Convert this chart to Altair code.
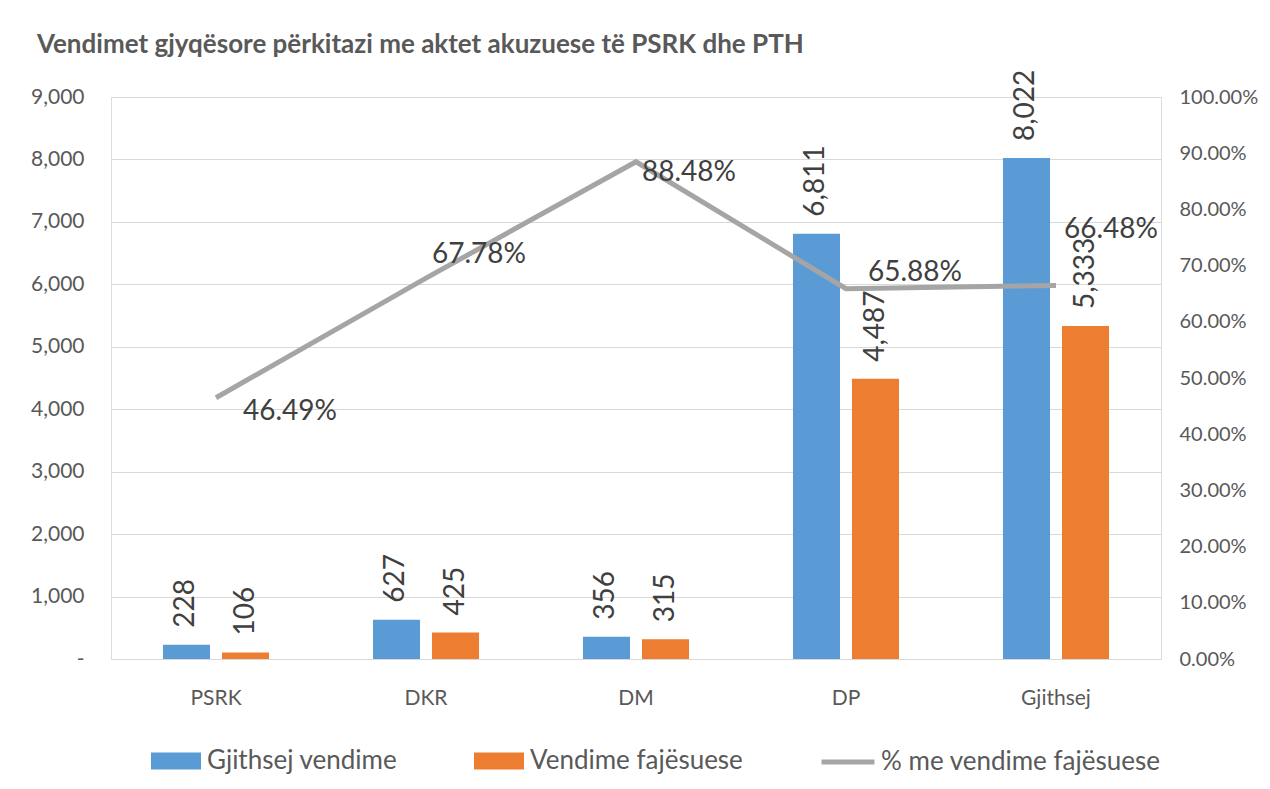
import altair as alt
import pandas as pd

categories = ["PSRK", "DKR", "DM", "DP", "Gjithsej"]
series_names = ["Gjithsej vendime", "Vendime fajësuese"]
total_decisions = [228, 627, 356, 6811, 8022]
convictions = [106, 425, 315, 4487, 5333]
conviction_pct = [46.49, 67.78, 88.48, 65.88, 66.48]
line_name = "% me vendime fajësuese"
title_text = "Vendimet gjyqësore përkitazi me aktet akuzuese të PSRK dhe PTH"

bars_df = pd.DataFrame({
    "category": categories * 2,
    "series": [series_names[0]] * len(categories) + [series_names[1]] * len(categories),
    "value": total_decisions + convictions,
})
line_df = pd.DataFrame({
    "category": categories,
    "pct": conviction_pct,
    "name": [line_name] * len(categories),
})

FONT = "Lato"
AXIS_COLOR = "#595959"
LABEL_COLOR = "#404040"

x_enc = alt.X(
    "category:N", sort=categories,
    scale=alt.Scale(paddingInner=0.495, paddingOuter=0.2475),
    axis=alt.Axis(title=None, labelFontSize=21, labelColor=AXIS_COLOR, labelFont=FONT,
                  labelPadding=28, ticks=False, domain=False, labelAngle=0, grid=False),
)
xoff_enc = alt.XOffset("series:N", sort=series_names,
                       scale=alt.Scale(paddingInner=0.203, paddingOuter=0))
y_left = alt.Y(
    "value:Q", scale=alt.Scale(domain=[0, 9000]),
    axis=alt.Axis(title=None, values=list(range(0, 9001, 1000)),
                  labelExpr="datum.value == 0 ? '-' : format(datum.value, ',')",
                  grid=True, gridColor="#D9D9D9", gridWidth=1, ticks=False, domain=False,
                  labelPadding=27, labelFontSize=21, labelColor=AXIS_COLOR, labelFont=FONT),
)
y_right = alt.Y(
    "pct:Q", scale=alt.Scale(domain=[0, 100]),
    axis=alt.Axis(title=None, orient="right", values=list(range(0, 101, 10)),
                  labelExpr="format(datum.value, '.2f') + '%'",
                  grid=False, ticks=False, domain=False,
                  labelPadding=18, labelFontSize=20, labelColor=AXIS_COLOR, labelFont=FONT),
)

bars = alt.Chart(bars_df).mark_bar().encode(
    x=x_enc, xOffset=xoff_enc, y=y_left,
    color=alt.Color("series:N", sort=series_names,
                    scale=alt.Scale(domain=series_names, range=["#5B9BD5", "#ED7D31"]),
                    legend=alt.Legend(title=None, orient="none", legendX=40, legendY=639,
                                      direction="horizontal",
                                      symbolType="M-1,-0.34H1V0.34H-1Z", symbolSize=2500,
                                      symbolStrokeWidth=0, symbolOpacity=1,
                                      labelFontSize=26, labelColor=AXIS_COLOR, labelFont=FONT,
                                      labelLimit=400, columnPadding=76, labelOffset=6)),
)
bar_labels = alt.Chart(bars_df).mark_text(
    angle=270, align="left", baseline="middle", dx=17, fontSize=28,
    color=LABEL_COLOR, font=FONT,
).encode(x=x_enc, xOffset=xoff_enc, y=y_left, text=alt.Text("value:Q", format=","))

bar_layer = alt.layer(bars, bar_labels)

line = alt.Chart(line_df).mark_line(strokeWidth=5).encode(
    x=x_enc, y=y_right,
    stroke=alt.Stroke("name:N", scale=alt.Scale(domain=[line_name], range=["#A5A5A5"]),
                      legend=alt.Legend(title=None, orient="none", legendX=708, legendY=636,
                                        direction="horizontal", symbolType="stroke",
                                        symbolSize=2800, symbolStrokeWidth=5,
                                        labelFontSize=26, labelColor=AXIS_COLOR, labelFont=FONT,
                                        labelLimit=400, labelOffset=4)),
)

label_offsets = {
    "PSRK": (27, 14),
    "DKR": (6, -23),
    "DM": (6, 11),
    "DP": (22, -16),
    "Gjithsej": (8, -55),
}
line_labels = []
for cat in categories:
    ddx, ddy = label_offsets[cat]
    line_labels.append(
        alt.Chart(line_df).transform_filter(alt.datum.category == cat)
        .transform_calculate(label="format(datum.pct, '.2f') + '%'")
        .mark_text(align="left", baseline="middle", dx=ddx, dy=ddy, fontSize=28,
                   color=LABEL_COLOR, font=FONT)
        .encode(x=x_enc, y=y_right, text="label:N")
    )

line_layer = alt.layer(line, *line_labels)

chart = alt.layer(bar_layer, line_layer).resolve_scale(y="independent").properties(
    width=1050, height=562,
    padding={"left": 103, "top": 89, "right": 100, "bottom": 120},
    autosize=alt.AutoSizeParams(type="none"),
    title=alt.TitleParams(title_text, anchor="start", frame="group", dx=-74, offset=12,
                          fontSize=26, font=FONT, fontWeight="bold", color=AXIS_COLOR),
).configure_view(stroke=None).configure(background="white")

chart.save("out.html", embed_options={"renderer": "svg", "actions": False})
